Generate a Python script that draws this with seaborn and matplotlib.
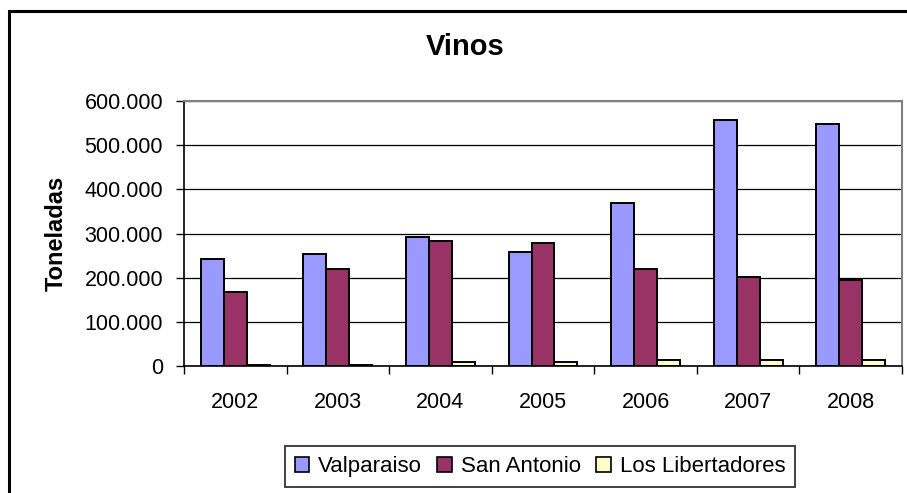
import numpy as np
import pandas as pd
import matplotlib
matplotlib.use("Agg")
import matplotlib.pyplot as plt
import seaborn as sns
from matplotlib.patches import Rectangle
from matplotlib.ticker import FuncFormatter, FixedLocator

years = ["2002", "2003", "2004", "2005", "2006", "2007", "2008"]
valparaiso = [243000, 254000, 292000, 258000, 368000, 556000, 547000]
san_antonio = [167000, 219000, 282000, 278000, 219000, 201000, 195000]
los_libertadores = [2000, 2000, 8000, 8000, 13000, 13000, 13000]
regions = ["Valparaiso", "San Antonio", "Los Libertadores"]
colors = ["#9999FF", "#993366", "#FFFFCC"]

df = pd.DataFrame({
    "year": years * 3,
    "region": [regions[0]] * 7 + [regions[1]] * 7 + [regions[2]] * 7,
    "value": valparaiso + san_antonio + los_libertadores,
})

sns.set_theme(style="white")
plt.rcParams["font.family"] = ["Liberation Sans", "DejaVu Sans"]
plt.rcParams["text.color"] = "black"

fig = plt.figure(figsize=(9.07, 4.93), dpi=100)
ax = fig.add_axes([184 / 907, 1 - 366 / 493, (902 - 184) / 907, (366 - 101) / 493])

sns.barplot(data=df, x="year", y="value", hue="region", palette=colors, saturation=1,
            edgecolor="black", linewidth=1.4, width=0.67, ax=ax, legend=False)

ax.set_ylim(0, 600000)
ax.set_xlim(-0.5, 6.5)
ax.set_yticks(np.arange(0, 600001, 100000))
ax.yaxis.set_major_formatter(FuncFormatter(lambda v, p: f"{int(v):,}".replace(",", ".")))
ax.tick_params(axis="y", which="major", left=True, length=6, width=1, color="black",
               labelsize=15.5, pad=9, labelcolor="black")

# category boundaries get the tick marks, labels stay centred
ax.xaxis.set_minor_locator(FixedLocator(np.arange(-0.5, 7, 1)))
ax.tick_params(axis="x", which="major", bottom=False, labelsize=15.5, pad=13, labelcolor="black")
ax.tick_params(axis="x", which="minor", bottom=True, length=6, width=1, color="black")

ax.grid(axis="y", color="black", linewidth=0.9)
ax.set_axisbelow(True)
for side in ["left", "bottom"]:
    ax.spines[side].set_color("black")
    ax.spines[side].set_linewidth(1.2)
for side in ["top", "right"]:
    ax.spines[side].set_color("#808080")
    ax.spines[side].set_linewidth(1.5)

ax.set_xlabel("")
ax.set_ylabel("Toneladas", fontsize=17, fontweight="bold", color="black")
ax.yaxis.set_label_coords(-0.162, 0.5)
fig.text(465 / 907, 1 - 47 / 493, "Vinos", ha="center", va="center",
         fontsize=21, fontweight="bold", color="black")

handles = [Rectangle((0, 0), 1, 1, facecolor=c, edgecolor="black", linewidth=1.2) for c in colors]
leg = fig.legend(handles, regions, loc="upper center", bbox_to_anchor=(540 / 907, 1 - 446 / 493),
                 ncol=3, frameon=True, fontsize=16, handlelength=0.65, handleheight=0.65,
                 handletextpad=0.4, columnspacing=0.7, borderpad=0.45, fancybox=False,
                 borderaxespad=0)
leg.get_frame().set_edgecolor("black")
leg.get_frame().set_linewidth(1.3)
for t in leg.get_texts():
    t.set_color("black")

# outer chart border, cut by the image edge on the right and bottom
fig.patches.append(Rectangle((9 / 907, -0.1), 1.1, 1 - 11 / 493 + 0.1, transform=fig.transFigure,
                             fill=False, edgecolor="black", linewidth=2.2))

fig.savefig("out.png", dpi=100)
